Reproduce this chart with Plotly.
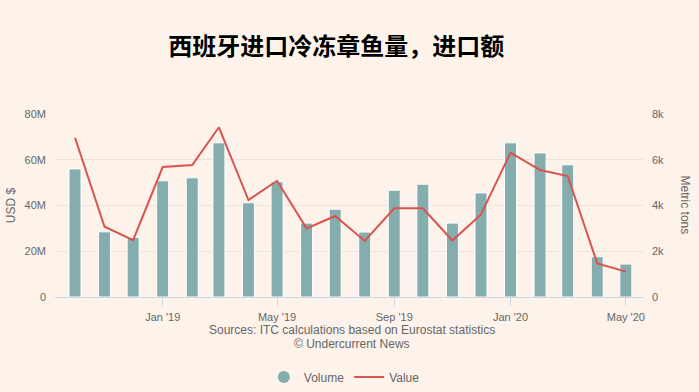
import plotly.graph_objects as go

months = ["2018-10-01", "2018-11-01", "2018-12-01", "2019-01-01", "2019-02-01",
          "2019-03-01", "2019-04-01", "2019-05-01", "2019-06-01", "2019-07-01",
          "2019-08-01", "2019-09-01", "2019-10-01", "2019-11-01", "2019-12-01",
          "2020-01-01", "2020-02-01", "2020-03-01", "2020-04-01", "2020-05-01"]
volume_tons = [5600, 2850, 2600, 5080, 5210, 6740, 4120, 5040, 3230, 3840,
               2840, 4670, 4930, 3230, 4550, 6740, 6300, 5780, 1760, 1440]
value_usd = [69.6e6, 30.7e6, 24.9e6, 56.8e6, 57.7e6, 74.2e6, 42.4e6, 50.8e6, 30.0e6, 35.4e6,
             24.5e6, 38.8e6, 38.8e6, 24.7e6, 36.1e6, 63.1e6, 55.5e6, 52.9e6, 14.7e6, 11.1e6]

x_tick_vals = ["2019-01-01", "2019-05-01", "2019-09-01", "2020-01-01", "2020-05-01"]
x_tick_text = ["Jan '19", "May '19", "Sep '19", "Jan '20", "May '20"]
usd_ticks = [0, 20e6, 40e6, 60e6, 80e6]
usd_text = ["0", "20M", "40M", "60M", "80M"]
ton_ticks = [0, 2000, 4000, 6000, 8000]
ton_text = ["0", "2k", "4k", "6k", "8k"]

bar_color = "#85adad"
line_color = "#d9534f"
bg = "#fdf3ea"
sans = "Liberation Sans, Arial, sans-serif"
tick_font = dict(family=sans, size=11, color="#666666")
txt_font = dict(family=sans, size=12, color="#666666")

fig = go.Figure()
fig.add_trace(go.Bar(x=months, y=volume_tons, name="Volume", marker=dict(color=bar_color, line=dict(color="white", width=1)),
                     width=12.6 * 86400000, yaxis="y", showlegend=False))
fig.add_trace(go.Scatter(x=[None], y=[None], mode="markers", name="Volume",
                         marker=dict(symbol="circle", size=12, color=bar_color), yaxis="y"))
fig.add_trace(go.Scatter(x=months, y=value_usd, mode="lines", name="Value",
                         line=dict(color=line_color, width=2), yaxis="y2"))

fig.update_layout(
    width=699, height=392,
    paper_bgcolor=bg, plot_bgcolor=bg,
    margin=dict(l=55, r=56, t=114, b=95),
    title=dict(text="<b>西班牙进口冷冻章鱼量，进口额</b>", x=0.481, xanchor="center", y=0.88, yanchor="middle",
               font=dict(family="Noto Sans CJK SC", size=24, color="#000000")),
    xaxis=dict(type="date", range=["2018-09-10", "2020-05-19"], tickvals=x_tick_vals, ticktext=x_tick_text,
               ticks="outside", ticklen=8, tickcolor="#ccd6eb", showline=True, linecolor="#ccd6eb",
               showgrid=False, tickfont=tick_font, automargin=False, ticklabelstandoff=2),
    yaxis=dict(side="right", range=[0, 8000], tickvals=ton_ticks, ticktext=ton_text, automargin=False,
               showgrid=True, gridcolor="#ece4db", zeroline=False, tickfont=tick_font, ticklabelstandoff=8),
    yaxis2=dict(side="left", overlaying="y", range=[0, 80e6], tickvals=usd_ticks, ticktext=usd_text, automargin=False,
                showgrid=False, zeroline=False, tickfont=tick_font, ticklabelstandoff=8,
                title=dict(text="USD $", font=txt_font, standoff=6)),
    legend=dict(orientation="h", x=0.492, xanchor="center", yref="container", y=0.038, yanchor="middle",
                font=txt_font, itemwidth=30),
    annotations=[
        dict(text="Metric tons", textangle=90, xref="paper", yref="paper", x=1.073, y=0.5, xanchor="center", yanchor="middle",
             showarrow=False, font=txt_font),
        dict(text="Sources: ITC calculations based on Eurostat statistics", xref="paper", yref="paper",
             x=0.505, y=-0.18, xanchor="center", yanchor="middle", showarrow=False, font=txt_font),
        dict(text="© Undercurrent News", xref="paper", yref="paper",
             x=0.505, y=-0.257, xanchor="center", yanchor="middle", showarrow=False, font=txt_font),
    ],
)

fig.write_html("out.html", config={"displayModeBar": False},
               post_script="document.body.style.margin='0';document.body.style.background='%s';" % bg)
